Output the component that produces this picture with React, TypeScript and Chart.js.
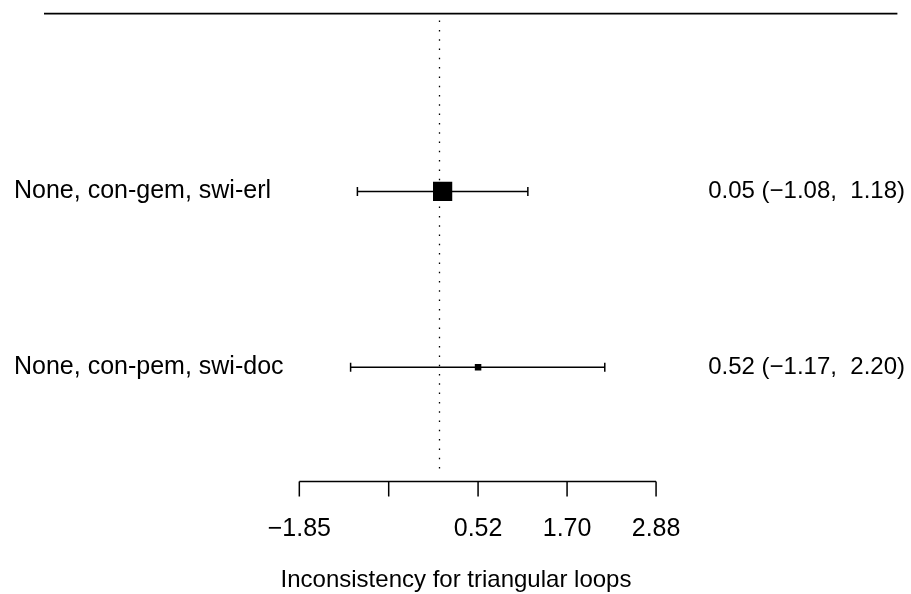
import React, { useEffect, useRef } from "react";
import { Chart, registerables } from "chart.js";

Chart.register(...registerables);

const studyLabels = ["None, con-gem, swi-erl", "None, con-pem, swi-doc"];
const estimates = [0.05, 0.52];
const lowerCI = [-1.08, -1.17];
const upperCI = [1.18, 2.2];
const ciLabels = ["0.05 (\u22121.08,  1.18)", "0.52 (\u22121.17,  2.20)"];
const rowPositions = [2, 1];
const axisTicks = [-1.85, -0.665, 0.52, 1.7, 2.88];
const axisTickLabels = ["\u22121.85", "", "0.52", "1.70", "2.88"];
const axisTitle = "Inconsistency for triangular loops";
const referenceValue = 0;

const fontOf = (px: number) => `${px}px "Liberation Sans", Arial, sans-serif`;

const forestPlugin = {
  id: "forest",
  beforeDatasetsDraw(chart: any) {
    const { ctx, chartArea, scales } = chart;
    const xs = scales.x;
    const ys = scales.y;
    ctx.save();
    ctx.strokeStyle = "#000";
    ctx.fillStyle = "#000";

    // top rule
    ctx.lineWidth = 1.6;
    ctx.beginPath();
    ctx.moveTo(chartArea.left, chartArea.top);
    ctx.lineTo(chartArea.right, chartArea.top);
    ctx.stroke();

    // reference dotted line
    const xr = Math.round(xs.getPixelForValue(referenceValue)) + 0.5;
    ctx.lineWidth = 1.3;
    ctx.setLineDash([1.5, 7.8]);
    ctx.beginPath();
    ctx.moveTo(xr, chartArea.top + 7);
    ctx.lineTo(xr, chartArea.bottom - 6);
    ctx.stroke();
    ctx.setLineDash([]);

    // error bars
    ctx.lineWidth = 1.5;
    for (let i = 0; i < estimates.length; i++) {
      const y = ys.getPixelForValue(rowPositions[i]);
      const x1 = xs.getPixelForValue(lowerCI[i]);
      const x2 = xs.getPixelForValue(upperCI[i]);
      ctx.beginPath();
      ctx.moveTo(x1, y);
      ctx.lineTo(x2, y);
      ctx.moveTo(x1, y - 4.5);
      ctx.lineTo(x1, y + 4.5);
      ctx.moveTo(x2, y - 4.5);
      ctx.lineTo(x2, y + 4.5);
      ctx.stroke();
    }

    // bottom axis
    const ay = chartArea.bottom + 0.5;
    const ax1 = xs.getPixelForValue(axisTicks[0]);
    const ax2 = xs.getPixelForValue(axisTicks[axisTicks.length - 1]);
    ctx.lineWidth = 1.5;
    ctx.beginPath();
    ctx.moveTo(ax1, ay);
    ctx.lineTo(ax2, ay);
    axisTicks.forEach((t) => {
      const px = xs.getPixelForValue(t);
      ctx.moveTo(px, ay);
      ctx.lineTo(px, ay + 15);
    });
    ctx.stroke();

    ctx.textBaseline = "middle";
    ctx.textAlign = "center";
    ctx.font = fontOf(25);
    axisTicks.forEach((t, i) => {
      if (axisTickLabels[i]) {
        ctx.fillText(axisTickLabels[i], xs.getPixelForValue(t), ay + 48);
      }
    });
    ctx.font = fontOf(24);
    ctx.fillText(axisTitle, 456, ay + 99);

    // row labels
    for (let i = 0; i < studyLabels.length; i++) {
      const y = ys.getPixelForValue(rowPositions[i]);
      ctx.textAlign = "left";
      ctx.font = fontOf(25);
      ctx.fillText(studyLabels[i], 14, y);
      ctx.textAlign = "right";
      ctx.font = fontOf(24);
      ctx.fillText(ciLabels[i], 905, y);
    }
    ctx.restore();
  },
};

export default function App() {
  const ref = useRef<HTMLCanvasElement>(null);
  useEffect(() => {
    if (!ref.current) return;
    const chart = new Chart(ref.current, {
      type: "scatter",
      data: {
        datasets: [
          {
            data: estimates.map((e, i) => ({ x: e, y: rowPositions[i] })),
            pointStyle: "rect",
            pointRadius: [13.6, 4.6],
            pointHoverRadius: [13.6, 4.6],
            backgroundColor: "#000",
            borderWidth: 0,
          },
        ],
      },
      plugins: [forestPlugin],
      options: {
        animation: false,
        responsive: true,
        maintainAspectRatio: false,
        layout: { padding: { left: 44, right: 13, top: 13, bottom: 113 } },
        plugins: { legend: { display: false }, tooltip: { enabled: false } },
        events: [],
        scales: {
          x: { type: "linear", display: false, min: -5.2352, max: 6.0797 },
          y: { type: "linear", display: false, min: 0.3523, max: 3.0114 },
        },
      },
    });
    return () => chart.destroy();
  }, []);
  return (
    <div style={{ position: "fixed", left: 0, top: 0, width: 911, height: 594, background: "#fff" }}>
      <canvas ref={ref} />
    </div>
  );
}
